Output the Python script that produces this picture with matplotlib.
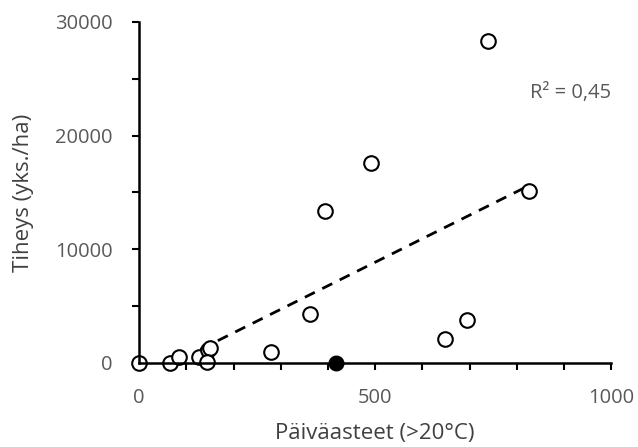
import matplotlib
matplotlib.use("Agg")
import matplotlib.pyplot as plt
import numpy as np

# degree days (>20 C) and density (yks./ha)
open_x = [0, 66, 85, 127, 146, 151, 144, 280, 361, 393, 492, 649, 694, 738, 825]
open_y = [0, 0, 530, 530, 1140, 1320, 90, 970, 4310, 13380, 17600, 2110, 3780, 28300, 15140]
filled_x = [418]
filled_y = [0]

# trend line (linear) and its label
trend_slope = 20.7
trend_intercept = -1490
trend_x = [130, 825]
r2_text = "R² = 0,45"

plt.rcParams['font.family'] = ['Open Sans', 'DejaVu Sans']

fig = plt.figure(figsize=(6.38, 4.47), dpi=100)
ax = fig.add_axes([0.218, 0.188, 0.740, 0.763])

tx = np.array(trend_x)
ax.plot(tx, trend_slope * tx + trend_intercept, color="black", linestyle=(0, (4, 3)), linewidth=2)

ax.plot(open_x, open_y, linestyle="none", marker="o", markersize=10.5,
        markerfacecolor="white", markeredgecolor="black", markeredgewidth=1.5, clip_on=False)
ax.plot(filled_x, filled_y, linestyle="none", marker="o", markersize=10.5,
        markerfacecolor="black", markeredgecolor="black", clip_on=False, zorder=5)

ax.set_xlim(0, 1000)
ax.set_ylim(0, 30000)
ax.set_xticks([0, 500, 1000])
ax.set_xticks(np.arange(0, 1001, 100), minor=True)
ax.set_yticks([0, 10000, 20000, 30000])
ax.set_yticks(np.arange(0, 30001, 5000), minor=True)

for s in ["top", "right"]:
    ax.spines[s].set_visible(False)
for s in ["left", "bottom"]:
    ax.spines[s].set_linewidth(1.8)

ax.tick_params(which="both", direction="out", width=1.5, length=5, colors="black",
               labelcolor="#595959", labelsize=14.5)
ax.tick_params(axis="x", pad=13)
ax.tick_params(axis="y", pad=14)

ax.set_xlabel("Päiväasteet (>20°C)", fontsize=16, color="#404040", labelpad=11)
ax.set_ylabel("Tiheys (yks./ha)", fontsize=16, color="#404040", labelpad=15)

ax.text(914, 23760, r2_text, fontsize=14.5, color="#595959", ha="center", va="center")

fig.savefig("out.png", dpi=100)
